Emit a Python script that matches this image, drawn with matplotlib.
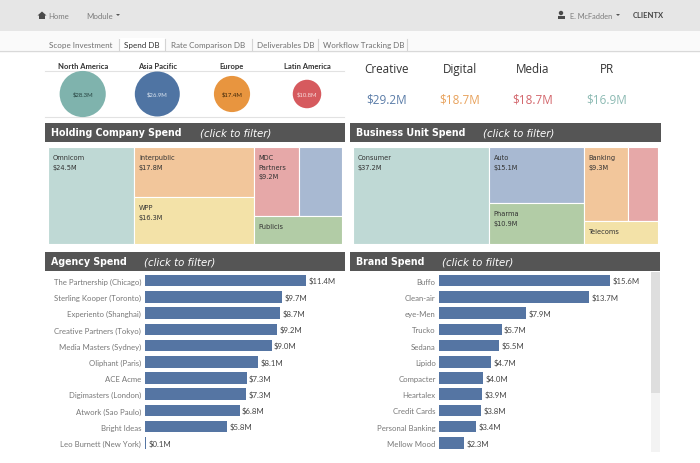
import matplotlib
matplotlib.use("Agg")
import matplotlib.pyplot as plt
from matplotlib.patches import Rectangle, Polygon, Circle

W, H = 700, 464

# ----- data -----
region_names = ["North America", "Asia Pacific", "Europe", "Latin America"]
region_values = [28.3, 26.9, 17.4, 10.8]
region_colors = ["#7fb3ad", "#4f74a3", "#e8953f", "#d65a5e"]
region_text = ["#24403d", "#dfe8f2", "#3a2408", "#f7dcdc"]

kpi_names = ["Creative", "Digital", "Media", "PR"]
kpi_values = [29.2, 18.7, 18.7, 16.9]
kpi_colors = ["#5a7ca8", "#e8a25c", "#d3666c", "#8cbab3"]

tabs = ["Scope Investment", "Spend DB", "Rate Comparison DB", "Deliverables DB", "Workflow Tracking DB"]

# treemaps: the last column has a row of two over one
holding_names = ["Omnicom", "Interpublic", "WPP", "MDC\nPartners", "", "Publicis"]
holding_values = [24.5, 17.8, 16.3, 9.2, 8.7, 7.1]
holding_labels = ["$24.5M", "$17.8M", "$16.3M", "$9.2M", "", ""]
holding_colors = ["#bfd9d5", "#f2c69b", "#f3e2a8", "#e6a8a8", "#a8b9d2", "#b2cca6"]

unit_names = ["Consumer", "Auto", "Pharma", "Banking", "", "Telecoms"]
unit_values = [37.2, 15.1, 10.9, 9.3, 6.3, 4.7]
unit_labels = ["$37.2M", "$15.1M", "$10.9M", "$9.3M", "", ""]
unit_colors = ["#bfd9d5", "#a8b9d2", "#b2cca6", "#f2c69b", "#e6a8a8", "#f3e2a8"]

agency_names = ["The Partnership (Chicago)", "Sterling Kooper (Toronto)", "Experiento (Shanghai)",
                "Creative Partners (Tokyo)", "Media Masters (Sydney)", "Oliphant (Paris)", "ACE Acme",
                "Digimasters (London)", "Atwork (Sao Paulo)", "Bright Ideas", "Leo Burnett (New York)"]
# bar lengths do not follow the printed labels exactly in the original
agency_lengths = [11.4, 9.7, 9.55, 9.35, 8.97, 8.0, 7.2, 7.15, 6.7, 5.8, 0.1]
agency_labels = [11.4, 9.7, 8.7, 9.2, 9.0, 8.1, 7.3, 7.3, 6.8, 5.8, 0.1]

brand_names = ["Buffo", "Clean-air", "eye-Men", "Trucko", "Sedana", "Lipido", "Compacter",
               "Heartalex", "Credit Cards", "Personal Banking", "Mellow Mood"]
brand_values = [15.6, 13.7, 7.9, 5.7, 5.5, 4.7, 4.0, 3.9, 3.8, 3.4, 2.3]

BAR = "#5575a3"
HEADER = "#555555"


def px_axes(fig, x0, y0, x1, y1):
    # axes placed by pixel box, y counted from the top
    return fig.add_axes([x0 / W, 1 - y1 / H, (x1 - x0) / W, (y1 - y0) / H])


def header(ax, x0, x1, y0, y1, title, note_x):
    ax.add_patch(Rectangle((x0, y0), x1 - x0, y1 - y0, color=HEADER, lw=0))
    ax.text(x0 + 6, (y0 + y1) / 2, title, color="white", fontsize=6.85, fontweight="bold",
            family="DejaVu Sans", va="center")
    ax.text(note_x, (y0 + y1) / 2, "(click to filter)", color="white", fontsize=7.3, style="italic",
            family="DejaVu Sans", va="center")


def treemap(fig, box, names, values, labels, colors):
    ax = px_axes(fig, *box)
    total = sum(values)
    ax.set_xlim(0, total)
    ax.set_ylim(1, 0)
    ax.axis("off")

    def cell(x, y, w, h, i):
        ax.add_patch(Rectangle((x, y), w, h, facecolor=colors[i], edgecolor="white", lw=0.8))
        txt = names[i] + ("\n" + labels[i] if labels[i] else "")
        if txt:
            ax.annotate(txt, (x, y), xytext=(3.4, -5), textcoords="offset points", fontsize=4.8,
                        color="#333333", va="top", family="DejaVu Sans", linespacing=1.75)

    # column one
    cell(0, 0, values[0], 1, 0)
    # column two, stacked
    col2 = values[1] + values[2]
    cell(values[0], 0, col2, values[1] / col2, 1)
    cell(values[0], values[1] / col2, col2, values[2] / col2, 2)
    # column three, pair on top and one below
    col3 = values[3] + values[4] + values[5]
    pair = values[3] + values[4]
    x3 = values[0] + col2
    cell(x3, 0, col3 * values[3] / pair, pair / col3, 3)
    cell(x3 + col3 * values[3] / pair, 0, col3 * values[4] / pair, pair / col3, 4)
    cell(x3, pair / col3, col3, values[5] / col3, 5)


def bars(fig, x0, x1, px_per_unit, names, lengths, labels):
    # 11 rows at 16.22 px, first row centred on y=281.7
    ax = px_axes(fig, x0, 273.6, x1, 452)
    ax.barh(range(len(names)), lengths, height=0.71, color=BAR, edgecolor="none")
    ax.set_ylim(10.5, -0.5)
    ax.set_xlim(0, (x1 - x0) / px_per_unit)
    ax.set_yticks(range(len(names)))
    ax.set_yticklabels(names, fontsize=5.55, color="#777777", family="Lato")
    ax.tick_params(left=False, bottom=False, labelbottom=False, length=0, pad=2.6)
    for s in ax.spines.values():
        s.set_visible(False)
    ax.patch.set_alpha(0)
    for i, (v, lab) in enumerate(zip(lengths, labels)):
        ax.text(v + 2.4 / px_per_unit, i, f"${lab:.1f}M", fontsize=5.6, color="#444444",
                va="center", family="Lato")


fig = plt.figure(figsize=(7, 4.64), dpi=100, facecolor="white")

# page chrome, drawn in pixel coordinates
bg = fig.add_axes([0, 0, 1, 1])
bg.set_xlim(0, W)
bg.set_ylim(H, 0)
bg.axis("off")

bg.add_patch(Rectangle((0, 0), W, 32, color="#e6e6e6", lw=0))
bg.add_patch(Rectangle((0, 32), W, 19, color="#fafafa", lw=0))
bg.plot([0, W], [51.5, 51.5], color="#d9d9d9", lw=1)

# home icon
bg.add_patch(Polygon([(37.5, 16.5), (42, 12.5), (46.5, 16.5), (45, 16.5), (45, 20), (39, 20), (39, 16.5)],
                     color="#4a4a4a", lw=0))
bg.text(48.7, 16.3, "Home", fontsize=5.6, color="#7a7a7a", va="center", family="Lato")
bg.text(86, 16.3, "Module", fontsize=5.7, color="#7a7a7a", va="center", family="Lato")
bg.add_patch(Polygon([(116, 15), (120, 15), (118, 17)], color="#555555", lw=0))

# user icon
bg.add_patch(Circle((561, 14), 2.2, color="#4a4a4a", lw=0))
bg.add_patch(Rectangle((557.5, 17), 7, 2.6, color="#4a4a4a", lw=0))
bg.text(570, 16.3, "E. McFadden", fontsize=5.3, color="#7a7a7a", va="center", family="Lato")
bg.add_patch(Polygon([(616, 15), (620, 15), (618, 17)], color="#555555", lw=0))
bg.text(632.7, 16, "CLIENTX", fontsize=5.5, color="#444444", va="center", fontweight="bold", family="Lato")

# tabs
tab_x = [49, 124.5, 171, 256.7, 323.3]
sep_x = [118.5, 165, 251.5, 317.5, 406.5]
bg.add_patch(Rectangle((118.5, 39), 46.5, 13, color="white", lw=0))
for x, t, sx in zip(tab_x, tabs, sep_x):
    bg.text(x, 45.5, t, fontsize=5.75, color="#333333" if t == "Spend DB" else "#707070",
            va="center", family="Lato")
    bg.plot([sx, sx], [40, 51], color="#d4d4d4", lw=0.8)

# region bubbles
region_x = [82.7, 157.3, 232, 307]
for x, n, v, c, tc in zip(region_x, region_names, region_values, region_colors, region_text):
    bg.text(x, 66.3, n, fontsize=5.5, color="#333333", ha="center", va="center", family="Lato", fontweight="bold")
    bg.text(x, 95, f"${v:.1f}M", fontsize=4.3, color=tc, ha="center", va="center", family="Lato", zorder=4)
bg.scatter(region_x, [95] * 4, s=[39 * v for v in region_values], c=region_colors, linewidths=0, zorder=3)
bg.plot([45, 344], [72, 72], color="#e2e2e2", lw=0.8)
bg.plot([45, 344], [118, 118], color="#e2e2e2", lw=0.8)

# KPIs
kpi_x = [386.5, 459.5, 533, 606.5]
for x, n, v, c in zip(kpi_x, kpi_names, kpi_values, kpi_colors):
    bg.text(x, 73.3, n, fontsize=8.4, color="#333333", ha="center", va="baseline", family="Open Sans")
    bg.text(x, 103, f"${v:.1f}M", fontsize=8.5, color=c, ha="center", va="baseline", family="Open Sans")

# section headers
header(bg, 45, 345, 124, 143, "Holding Company Spend", 200)
header(bg, 350, 661, 124, 143, "Business Unit Spend", 483)
header(bg, 45, 345, 253, 272, "Agency Spend", 144)
header(bg, 350, 660, 253, 272, "Brand Spend", 441.7)

# scrollbar of the brand list
bg.add_patch(Rectangle((650.7, 273), 9.3, 180, color="#f3f3f3", lw=0))
bg.add_patch(Rectangle((650.7, 273), 9.3, 121, color="#dedede", lw=0))

treemap(fig, (48, 148, 342, 244.5), holding_names, holding_values, holding_labels, holding_colors)
treemap(fig, (353, 148, 658, 244.5), unit_names, unit_values, unit_labels, unit_colors)

bars(fig, 144.7, 345, 14.15, agency_names, agency_lengths, agency_labels)
bars(fig, 439.3, 650, 10.94, brand_names, brand_values, brand_values)

fig.savefig("out.png", dpi=100)
